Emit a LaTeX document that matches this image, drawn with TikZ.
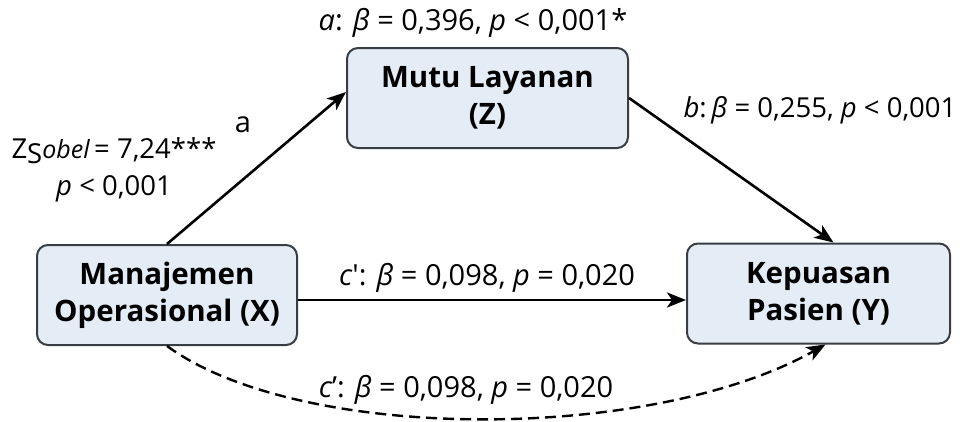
\documentclass[tikz,border=0pt]{standalone}
\usepackage{fontspec}
\setmainfont{Open Sans}
\usetikzlibrary{arrows.meta,calc}
\definecolor{boxfill}{HTML}{E4EDF6}
\definecolor{boxline}{HTML}{383D43}
\begin{document}
\begin{tikzpicture}[x=1pt,y=-1pt,
  box/.style={draw=boxline, fill=boxfill, line width=2pt, rounded corners=11pt,
    inner sep=0pt, align=center, font=\fontsize{29.5}{37}\selectfont\bfseries},
  arr/.style={line width=2.6pt, -{Stealth[length=19pt,width=15pt,inset=5pt]}},
  lbl/.style={inner sep=0pt, font=\fontsize{29}{36}\selectfont},
  sm/.style={inner sep=0pt, align=center, font=\fontsize{27.5}{37}\selectfont}]
\useasboundingbox (0,0) rectangle (966,421);
\node[box, minimum width=260pt, minimum height=100pt] (X) at (167,295) {Manajemen\\Operasional (X)};
\node[box, minimum width=281pt, minimum height=100pt] (Z) at (487.5,98) {Mutu Layanan\\(Z)};
\node[box, minimum width=263pt, minimum height=100pt] (Y) at (818.5,293.5) {Kepuasan\\Pasien (Y)};
% connectors
\draw[arr] (X.north) -- ($(Z.west)+(0,-6)$);
\draw[arr] (Z.east) -- ($(Y.north)+(15,0)$);
\draw[arr] ([yshift=-5pt]X.east) -- ([yshift=-5pt]X.east -| Y.west);
\draw[arr, line width=2.4pt, dash pattern=on 11pt off 6pt] (X.south) .. controls (300,443) and (650,443) .. ($(Y.south)+(7,0)$);
% labels
\node[lbl] (la) at (473,23) {\textit{a}: \textit{β} = 0,396, \textit{p} < 0,001*};
\node[lbl] (la2) at (243,125) {a};
\node[sm] (ls) at (114,170) {Z\raisebox{-0.3ex}{S}{\itshape\fontsize{25}{28}\selectfont obel}\,= 7,24***\\\textit{p} < 0,001};
\node[lbl, font=\fontsize{27.5}{36}\selectfont] (lb) at (820,110) {\textit{b}:\,\textit{β} = 0,255, \textit{p} < 0,001};
\node[lbl] (lc) at (487,278) {\textit{c}\textquotesingle: \textit{β} = 0,098, \textit{p} = 0,020};
\node[lbl] (ld) at (466,390) {\textit{c}’: \textit{β} = 0,098, \textit{p} = 0,020};
\end{tikzpicture}
\end{document}
